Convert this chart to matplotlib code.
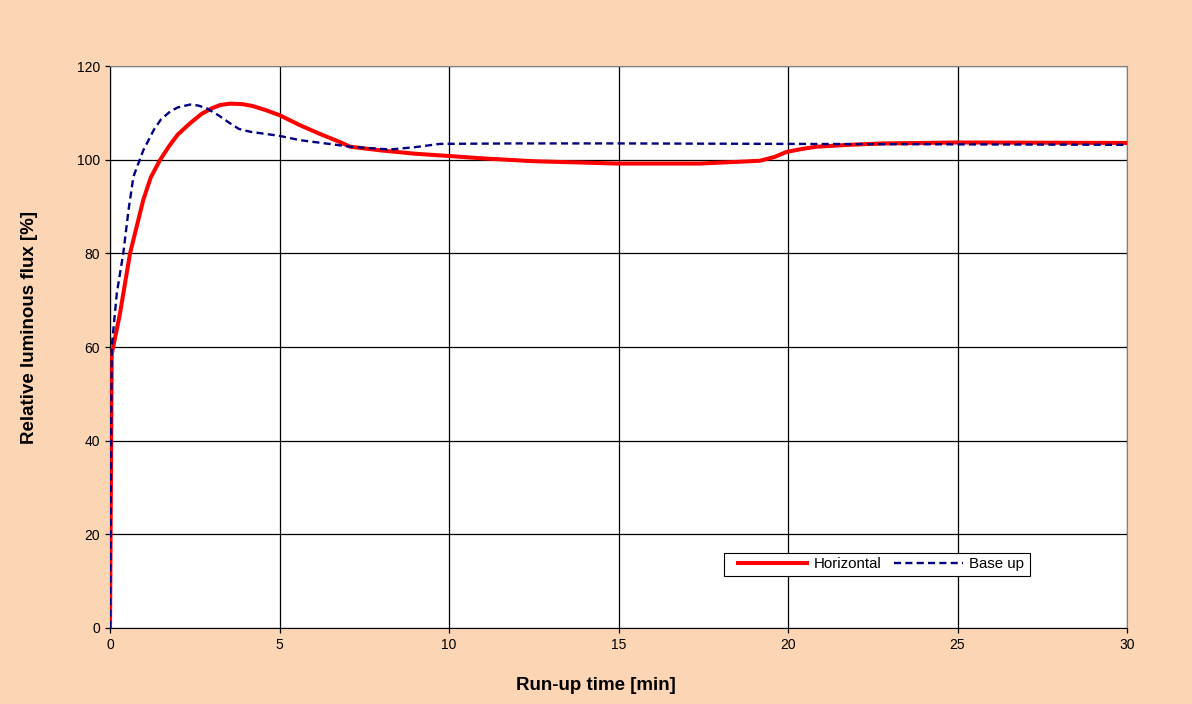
import matplotlib
matplotlib.use("Agg")
import matplotlib.pyplot as plt
from matplotlib.patches import Rectangle

plt.rcParams['font.family'] = ['Liberation Sans', 'DejaVu Sans']

# Horizontal burning position
t_horizontal = [0, 0.05, 0.29, 0.59, 0.98, 1.2, 1.47, 1.75, 2.0, 2.36, 2.7, 3.0, 3.25, 3.54,
                3.9, 4.2, 4.6, 5.01, 5.6, 6.2, 6.78, 7.08, 8.0, 9.0, 10.03, 11.0, 12.5,
                14.94, 17.4, 18.9, 19.17, 19.6, 19.96, 20.4, 20.84, 21.8, 22.8, 25, 30]
flux_horizontal = [0, 58.5, 67, 80, 91.4, 96.2, 99.9, 103.0, 105.4, 107.8, 109.8, 111.0, 111.7, 112.0,
                   111.9, 111.5, 110.6, 109.5, 107.4, 105.5, 103.8, 102.8, 102.0, 101.3, 100.8, 100.3, 99.7,
                   99.2, 99.2, 99.7, 99.8, 100.6, 101.7, 102.3, 102.8, 103.2, 103.5, 103.7, 103.6]

# Base up burning position
t_base_up = [0, 0.05, 0.2, 0.39, 0.55, 0.69, 0.98, 1.3, 1.5, 1.77, 2.0, 2.36, 2.6, 2.85, 3.2,
             3.54, 3.8, 4.13, 5.01, 5.6, 6.78, 7.08, 8.26, 9.0, 9.73, 12, 15, 20, 25, 30]
flux_base_up = [0, 60, 71.5, 80, 89.5, 96.4, 102, 106.5, 108.6, 110.3, 111.2, 111.8, 111.6, 111.0, 109.5,
                107.8, 106.6, 106.0, 105.1, 104.2, 103.1, 102.8, 102.2, 102.7, 103.4, 103.5, 103.5,
                103.4, 103.3, 103.2]

fig = plt.figure(figsize=(11.92, 7.04), dpi=100, facecolor='#FCD5B5')
ax = fig.add_axes([0.0923, 0.108, 0.8532, 0.798])
ax.set_facecolor('white')

ax.plot(t_horizontal, flux_horizontal, color='#FF0000', lw=2.9, label='Horizontal',
        solid_joinstyle='round', zorder=3)
ax.plot(t_base_up, flux_base_up, color='#000080', lw=1.7, linestyle=(0, (3, 1.8)),
        label='Base up', zorder=4)

ax.set_xlim(0, 30)
ax.set_ylim(0, 120)
ax.set_xticks(range(0, 31, 5))
ax.set_yticks(range(0, 121, 20))
ax.grid(True, color='black', lw=0.9)
ax.set_axisbelow(True)
ax.tick_params(labelsize=10, length=3.6, width=0.9, direction='out')

for side in ('top', 'right'):
    ax.spines[side].set_color('#808080')
for side in ('left', 'bottom'):
    ax.spines[side].set_color('black')

ax.set_xlabel('Run-up time [min]', fontsize=13.5, fontweight='bold')
ax.set_ylabel('Relative luminous flux [%]', fontsize=13.5, fontweight='bold')
ax.xaxis.set_label_coords(0.478, -0.087)
ax.yaxis.set_label_coords(-0.071, 0.535)

# legend frame drawn separately so the padding can be wider on the left
ax.add_patch(Rectangle((0.6037, 0.0925), 0.3009, 0.041, transform=ax.transAxes,
                       facecolor='white', edgecolor='black', lw=0.8, zorder=5))
leg = ax.legend(loc='center left', bbox_to_anchor=(0.6175, 0.113), ncol=2, fontsize=10.8,
                frameon=False, handlelength=4.6, columnspacing=0.8, borderpad=0,
                handletextpad=0.45, borderaxespad=0)
leg.set_zorder(6)

fig.savefig('out.png', dpi=100, facecolor=fig.get_facecolor())
